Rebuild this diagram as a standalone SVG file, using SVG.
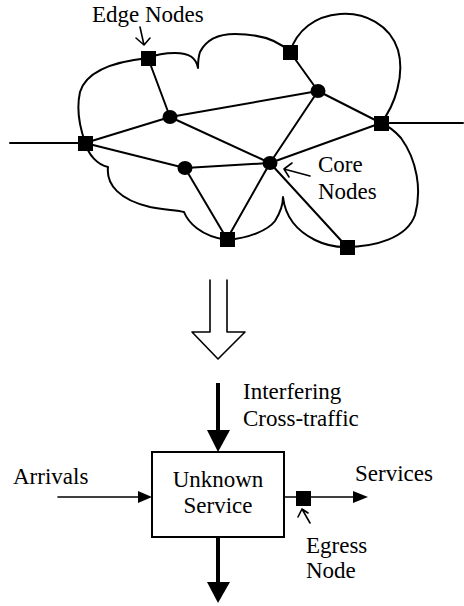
<svg xmlns="http://www.w3.org/2000/svg" width="464" height="606" viewBox="0 0 464 606">
  <style>
    .lbl { font-family: "Liberation Serif", "Times New Roman", serif; font-size: 23px; fill: #000; }
    .mid { text-anchor: middle; }
    .ln { stroke: #000; stroke-width: 2; fill: none; stroke-linecap: round; stroke-linejoin: round; }
    .thin { stroke: #000; stroke-width: 1.6; fill: none; stroke-linecap: round; stroke-linejoin: round; }
    .thick { stroke: #000; stroke-width: 4; fill: none; }
    .sq { fill: #000; }
    .core { fill: #000; }
  </style>
  <rect width="464" height="606" fill="#fff"/>

  <!-- network cloud outline -->
  <path id="cloud" class="ln" d="M148,58 C110,62 86,72 80,92 C76,110 80,128 85,142
    C88,155 98,165 108,167
    C106,185 120,200 150,207 C165,210 178,210 184,212
    C188,222 200,236 227,240
    C250,238 268,230 275,221 C280,213 283,205 283,197
    C285,215 295,230 315,240 C325,245 335,247 345,247
    C375,247 407,238 415,215 C422,190 417,160 401,138 C395,131 388,126 381,123
    C395,105 405,75 398,50 C390,25 365,12 340,14 C315,16 297,30 290,52
    C280,42 262,34 235,34 C215,34 205,42 200,52 C198,58 198,64 198,68
    C196,58 190,53 175,53 C165,53 155,55 148,58"/>

  <!-- links between nodes -->
  <g id="connectors" class="ln">
    <line x1="10" y1="143" x2="85" y2="143"/>
    <line x1="381" y1="123" x2="463" y2="123"/>
    <line x1="148" y1="58" x2="170" y2="117"/>
    <line x1="85" y1="143" x2="170" y2="117"/>
    <line x1="170" y1="117" x2="318" y2="91"/>
    <line x1="170" y1="117" x2="270" y2="163"/>
    <line x1="290" y1="52" x2="318" y2="91"/>
    <line x1="318" y1="91" x2="381" y2="123"/>
    <line x1="318" y1="91" x2="270" y2="163"/>
    <line x1="85" y1="143" x2="185" y2="168"/>
    <line x1="185" y1="168" x2="270" y2="163"/>
    <line x1="185" y1="168" x2="227" y2="239"/>
    <line x1="270" y1="163" x2="227" y2="239"/>
    <line x1="270" y1="163" x2="381" y2="123"/>
    <line x1="270" y1="163" x2="347" y2="247"/>
  </g>

  <!-- edge nodes -->
  <g id="edge-1"><rect class="sq" x="141" y="51" width="15" height="15"/></g>
  <g id="edge-2"><rect class="sq" x="283" y="45" width="15" height="15"/></g>
  <g id="edge-3"><rect class="sq" x="374" y="116" width="15" height="15"/></g>
  <g id="edge-4"><rect class="sq" x="78" y="136" width="15" height="15"/></g>
  <g id="edge-5"><rect class="sq" x="220" y="232" width="15" height="15"/></g>
  <g id="edge-6"><rect class="sq" x="340" y="240" width="15" height="15"/></g>

  <!-- core nodes -->
  <g id="core-1"><ellipse class="core" cx="170" cy="117" rx="7.5" ry="7"/></g>
  <g id="core-2"><ellipse class="core" cx="318" cy="91" rx="7.5" ry="7"/></g>
  <g id="core-3"><ellipse class="core" cx="185" cy="168" rx="7.5" ry="7"/></g>
  <g id="core-4"><ellipse class="core" cx="270" cy="163" rx="7.5" ry="7"/></g>

  <!-- callouts -->
  <g id="edge-label">
    <text class="lbl" x="92" y="22">Edge Nodes</text>
    <path class="thin" d="M140,27 L144,45 M136,38 L144,45 L150,38"/>
  </g>
  <g id="core-label">
    <text class="lbl" x="318" y="172">Core</text>
    <text class="lbl" x="318" y="199">Nodes</text>
    <path class="thin" d="M310,176 L284,169 M292,163 L284,169 L289,177"/>
  </g>

  <!-- hollow transition arrow -->
  <g id="transition">
    <path class="thin" d="M210,280 V332 H192 L218,359 L245,332 H227 V280"/>
  </g>

  <!-- abstract model -->
  <g id="unknown-service">
    <rect x="152" y="452" width="132" height="85" fill="#fff" stroke="#000" stroke-width="2"/>
    <text class="lbl mid" x="218" y="487">Unknown</text>
    <text class="lbl mid" x="218" y="513">Service</text>
  </g>

  <g id="cross-traffic">
    <line class="thick" x1="218" y1="383" x2="218" y2="432"/>
    <polygon points="207,430 230,430 218,452"/>
    <text class="lbl" x="243" y="399">Interfering</text>
    <text class="lbl" x="243" y="426">Cross-traffic</text>
  </g>

  <g id="outflow">
    <line class="thick" x1="218" y1="537" x2="218" y2="584"/>
    <polygon points="207,582 230,582 218,603"/>
  </g>

  <g id="arrivals">
    <text class="lbl" x="13" y="484">Arrivals</text>
    <line class="thin" x1="58" y1="497" x2="140" y2="497"/>
    <polygon points="138,491 152,497 138,503"/>
  </g>

  <g id="services">
    <line class="thin" x1="284" y1="497" x2="355" y2="497"/>
    <polygon points="353,491 368,497 353,503"/>
    <text class="lbl" x="355" y="481">Services</text>
  </g>

  <g id="egress-node">
    <rect class="sq" x="296" y="491" width="15" height="15"/>
    <path class="thin" d="M310,523 L302,509 M298,517 L302,509 L308,513"/>
    <text class="lbl" x="306" y="553">Egress</text>
    <text class="lbl" x="306" y="578">Node</text>
  </g>
</svg>
